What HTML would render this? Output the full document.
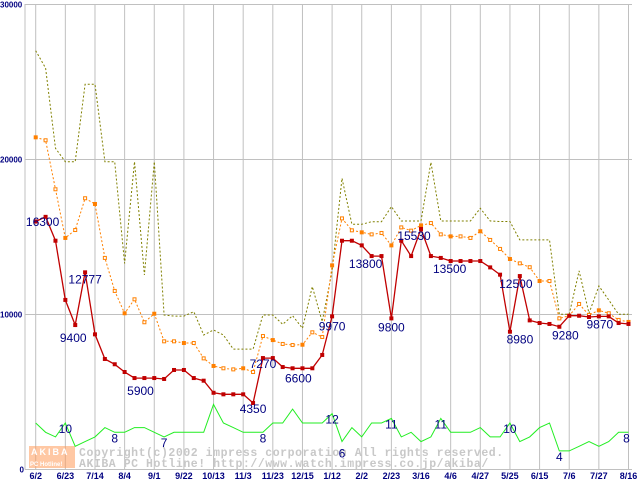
<!DOCTYPE html>
<html><head><meta charset="utf-8">
<style>
html,body{margin:0;padding:0;background:#fff;}
svg{display:block;font-family:"Liberation Sans",sans-serif;}
</style></head>
<body>
<svg id="chart" width="640" height="480" viewBox="0 0 640 480"></svg>
<script>
const xLabels=["6/2","6/23","7/14","8/4","9/1","9/22","10/13","11/3","11/23","12/15","1/12","2/2","2/23","3/16","4/6","4/27","5/25","6/15","7/6","7/27","8/16"];
const yTicks=[0,10000,20000,30000];
const minPrice=[16000,16300,14760,10940,9320,12720,8720,7130,6790,6290,5900,5900,5900,5840,6420,6420,5900,5730,4950,4850,4850,4850,4290,7190,7190,6610,6530,6530,6530,7390,9880,14760,14760,14460,13770,13770,9750,14760,13770,15520,13770,13650,13450,13450,13450,13450,13040,12570,8890,12480,9620,9450,9390,9210,9920,9920,9840,9880,9880,9450,9390];
const avgPrice=[21430,21240,18080,14940,15450,17500,17130,13650,11520,10080,10980,9500,10050,8270,8270,8160,8160,7170,6680,6530,6460,6530,6290,8610,8350,8100,8030,8050,8850,8550,13170,16200,15430,15300,15170,15260,14460,15620,15410,15750,15900,15170,15040,15040,14940,15370,14810,14230,13580,13300,13050,12160,12160,9750,9920,10680,9970,10270,10080,9650,9520];
const maxPrice=[27020,25900,20720,19860,19860,24850,24850,19860,19860,13300,19860,12550,19860,9970,9900,9900,10180,8680,9000,8680,7770,7770,7770,9970,9970,9370,9920,9110,11800,9540,12800,18790,15820,15820,15990,15990,16960,16030,16030,16030,19820,16030,16030,16030,16030,16850,16030,16000,16000,14810,14810,14810,14810,10010,10010,12810,10080,11840,10940,10010,10010];
const shopCount=[10,8,7,10,5,6,7,9,8,8,9,9,8,7,8,8,8,8,14,10,9,8,8,8,10,10,13,10,10,10,12,6,9,7,10,10,11,7,8,6,7,11,8,8,8,9,7,7,10,6,7,9,10,4,4,5,6,5,6,8,8];
const priceLabelIdx=[1,5,4,10,22,23,28,30,34,36,39,42,49,48,53,57];
const priceLabelText=["16300","12777","9400","5900","4350","7270","6600","9970","13800","9800","15530","13500","12500","8980","9280","9870"];
const priceLabelDx=[-3,0,-2,6,0,0,-14,0,-6,0,-7,-1,-4,10,6,1];
const priceLabelDy=[9,11,17,17,10,10,14,14,12,13,11,12,12,12,13,12];
const countLabelIdx=[3,8,13,23,30,31,36,41,48,53,60];
const countLabelDy=[10,10,10,10,10,16,10,10,10,10,10];

const NS="http://www.w3.org/2000/svg";
const svg=document.getElementById('chart');
const X0=35.7,STEP=9.88,Y0=469.5,SC=0.0155,CSC=4.65;
function xPos(i){return X0+i*STEP;}
function yPos(v){return Y0-v*SC;}
function yCount(c){return Y0-c*CSC;}
function mk(tag,attrs){const e=document.createElementNS(NS,tag);for(const k in attrs)e.setAttribute(k,attrs[k]);svg.appendChild(e);return e;}

mk('line',{x1:25,y1:4,x2:25,y2:Y0,stroke:'#c0c0c0','stroke-width':1});
yTicks.forEach(v=>{
  const l=mk('line',{x1:25,y1:yPos(v),x2:632,y2:yPos(v),stroke:'#c0c0c0','stroke-width':1});
  
  
  const t=mk('text',{x:v===0?24:0,y:yPos(v)+3,'font-size':8,'font-weight':'bold',fill:'#000080','text-anchor':v===0?'end':'start'});
  t.textContent=String(v);
  
  
});
xLabels.forEach((s,k)=>{
  const x=xPos(k*3);
  const l=mk('line',{x1:x,y1:4,x2:x,y2:Y0,stroke:'#c0c0c0','stroke-width':1});
  
  
  const t=mk('text',{x:x,y:479,'font-size':9,'font-weight':'bold',fill:'#000080','text-anchor':'middle'});
  t.textContent=s;
  
  
});

const wm=mk('rect',{x:29,y:446,width:46,height:22,fill:'#ff9a5a','fill-opacity':0.55});


const w1=mk('text',{x:31,y:455,'font-size':9,'font-weight':'bold',fill:'#fff','letter-spacing':2});w1.textContent='AKIBA';


const w2=mk('text',{x:30,y:466,'font-size':6,'font-weight':'bold',fill:'#fff'});w2.textContent='PC Hotline!';


const c1=mk('text',{x:79,y:456,'font-size':11.5,'font-weight':'bold',fill:'#c8c8c8','font-family':'Liberation Mono,monospace','letter-spacing':0.55});
c1.textContent='Copyright(c)2002 impress corporation All rights reserved.';


const c2=mk('text',{x:79,y:467,'font-size':11.5,'font-weight':'bold',fill:'#c8c8c8','font-family':'Liberation Mono,monospace','letter-spacing':0.55});
c2.textContent='AKIBA PC Hotline!  http://www.watch.impress.co.jp/akiba/';



function pts(arr,f){return arr.map((v,i)=>xPos(i).toFixed(1)+','+f(v).toFixed(1)).join(' ');}
const g=mk('polyline',{points:pts(shopCount,yCount),fill:'none',stroke:'#22ee22','stroke-width':1});


const mx=mk('polyline',{points:pts(maxPrice,yPos),fill:'none',stroke:'#808000','stroke-width':1,'stroke-dasharray':'2,2'});


const av=mk('polyline',{points:pts(avgPrice,yPos),fill:'none',stroke:'#ff8000','stroke-width':1,'stroke-dasharray':'2,2'});


avgPrice.forEach((v,i)=>{
  const r=mk('rect',{x:xPos(i)-1.5,y:yPos(v)-1.5,width:3,height:3,fill:i%3===0?'#ff8000':'#fff',stroke:'#ff8000','stroke-width':1});
  
  
});
const mn=mk('polyline',{points:pts(minPrice,yPos),fill:'none',stroke:'#c00000','stroke-width':1.3});


minPrice.forEach((v,i)=>{
  const r=mk('rect',{x:xPos(i)-2,y:yPos(v)-2,width:4,height:4,fill:'#c00000'});
  
  
});
priceLabelIdx.forEach((idx,k)=>{
  const t=mk('text',{x:xPos(idx)+priceLabelDx[k],y:yPos(minPrice[idx])+priceLabelDy[k],'font-size':12,fill:'#000080','text-anchor':'middle'});
  t.textContent=priceLabelText[k];
  
  
});
countLabelIdx.forEach((idx,k)=>{
  const t=mk('text',{x:xPos(idx)-(idx===60?2:0),y:yCount(shopCount[idx])+countLabelDy[k],'font-size':12,fill:'#000080','text-anchor':'middle'});
  t.textContent=String(shopCount[idx]);
  
  
});
</script>
</body></html>
